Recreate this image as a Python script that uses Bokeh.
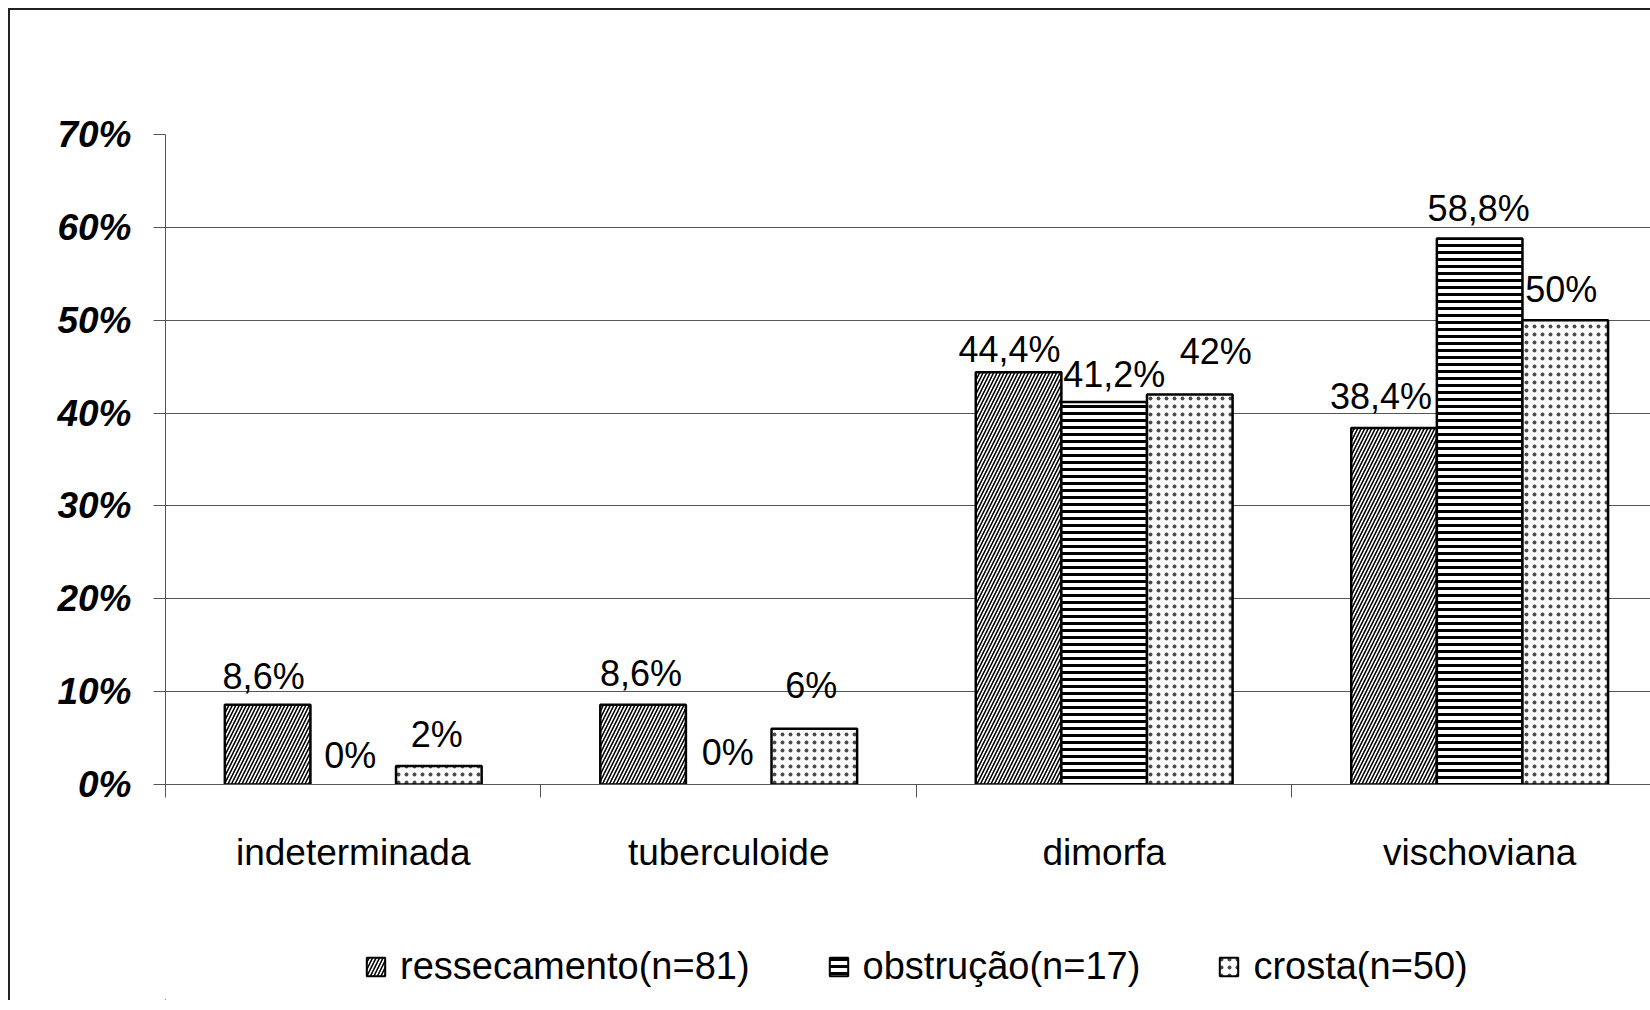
from bokeh.plotting import figure
from bokeh.layouts import column
from bokeh.models import ColumnDataSource, FixedTicker, Legend, LegendItem, Range1d
from bokeh.core.properties import value
from bokeh.embed import file_html
from bokeh.resources import INLINE

# ---------------- data ----------------
categories = ["indeterminada", "tuberculoide", "dimorfa", "vischoviana"]
series_names = ["ressecamento(n=81)", "obstrução(n=17)", "crosta(n=50)"]
ressecamento = [8.6, 8.6, 44.4, 38.4]
obstrucao = [0.0, 0.0, 41.2, 58.8]
crosta = [2.0, 6.0, 42.0, 50.0]
y_ticks = [0, 10, 20, 30, 40, 50, 60, 70]
y_tick_labels = ["0%", "10%", "20%", "30%", "40%", "50%", "60%", "70%"]

# ---------------- styles ----------------
FONT = "Liberation Sans"
series_values = [ressecamento, obstrucao, crosta]
hatch_styles = [
    dict(hatch_pattern="right_diagonal_line", hatch_scale=7, hatch_weight=1.6),
    dict(hatch_pattern="horizontal_line", hatch_scale=7, hatch_weight=3),
    dict(hatch_pattern="dot", hatch_scale=8, hatch_weight=0.5, hatch_alpha=0.7),
]
# manual data label nudges (pixels), as in the original chart
label_dx = [[-4, -2, -9, -13], [-3, -1, 10, -1], [-2, -3, 26, -4]]
label_dy = [[28, 31, 23, 31], [29, 32, 27, 30], [31, 43, 43, 31]]
bar_w = 0.228
dodge = [-bar_w, 0.0, bar_w]

p = figure(frame_width=1485, frame_height=650,
           x_range=Range1d(0, 3.955), y_range=Range1d(0, 70),
           output_backend="svg", toolbar_location=None,
           min_border_left=155, min_border_top=124,
           min_border_right=0, min_border_bottom=156)
p.outline_line_color = None
p.background_fill_color = "white"
p.border_fill_color = "white"

# grid
p.xgrid.visible = False
p.ygrid.ticker = FixedTicker(ticks=y_ticks)
p.ygrid.grid_line_color = "#555555"
p.ygrid.grid_line_width = 1

# y axis
p.yaxis.ticker = FixedTicker(ticks=y_ticks)
p.yaxis.major_label_overrides = {t: l for t, l in zip(y_ticks, y_tick_labels)}
p.yaxis.major_label_text_font = FONT
p.yaxis.major_label_text_font_size = "37px"
p.yaxis.major_label_text_font_style = "bold italic"
p.yaxis.major_label_text_color = "black"
p.yaxis.major_tick_out = 12
p.yaxis.major_tick_in = 0
p.yaxis.minor_tick_line_color = None
p.yaxis.major_label_standoff = 22
p.yaxis.axis_line_color = "#555555"
p.yaxis.major_tick_line_color = "#555555"

# x axis
centers = [i + 0.5 for i in range(len(categories))]
bounds = [float(i) for i in range(len(categories) + 1)]
p.xaxis.ticker = FixedTicker(ticks=centers, minor_ticks=bounds)
p.xaxis.major_label_overrides = {c: n for c, n in zip(centers, categories)}
p.xaxis.major_label_text_font = FONT
p.xaxis.major_label_text_font_size = "37px"
p.xaxis.major_label_text_color = "black"
p.xaxis.major_tick_line_color = None
p.xaxis.major_tick_out = 0
p.xaxis.major_tick_in = 0
p.xaxis.minor_tick_out = 13
p.xaxis.minor_tick_in = 0
p.xaxis.minor_tick_line_color = "#555555"
p.xaxis.axis_line_color = "#555555"
p.xaxis.major_label_standoff = 34

for k, (name, vals) in enumerate(zip(series_names, series_values)):
    xs = [c + dodge[k] for c in centers]
    src = ColumnDataSource(dict(
        x=xs, top=vals,
        line_alpha=[0.0 if v == 0 else 1.0 for v in vals],
        label=[(f"{v:g}".replace(".", ",") + "%") for v in vals],
        dx=label_dx[k], dy=[-d for d in label_dy[k]],
    ))
    p.vbar(x="x", top="top", bottom=0, width=bar_w, source=src,
           fill_color="white", line_color="black", line_width=2.5,
           line_alpha="line_alpha", hatch_color="black", **hatch_styles[k])
    p.text(x="x", y="top", text="label", source=src,
           x_offset="dx", y_offset="dy",
           text_align="center", text_baseline="alphabetic",
           text_font=value(FONT), text_font_size="36px", text_color="black")

# ---------------- legend strip (separate figure under the chart) ----------------
lg = figure(width=1640, height=60, output_backend="svg", toolbar_location=None,
            x_axis_type=None, y_axis_type=None,
            x_range=Range1d(0, 1), y_range=Range1d(0, 1), min_border=0)
lg.outline_line_color = None
lg.grid.visible = False
lg.background_fill_color = "white"
lg.border_fill_color = "white"
items = []
for k, name in enumerate(series_names):
    # proxy renderer placed entirely outside the visible ranges; only the legend swatch is seen
    r = lg.vbar(x=[-1000.0], top=[-900.0], bottom=-1000.0, width=bar_w,
                fill_color="white", line_color="black", line_width=2,
                hatch_color="black", **hatch_styles[k])
    items.append(LegendItem(label=name, renderers=[r]))

legend = Legend(items=items, orientation="horizontal", location=(199, 12))
legend.label_text_font = FONT
legend.label_text_font_size = "38px"
legend.label_text_color = "black"
legend.glyph_width = 23
legend.glyph_height = 23
legend.label_standoff = 13
legend.spacing = 77
legend.padding = 0
legend.margin = 0
legend.border_line_color = None
legend.background_fill_alpha = 0
lg.add_layout(legend, "center")

layout = column(p, lg, spacing=0)
layout.styles = {"border-left": "2px solid #222222", "border-top": "2px solid #222222",
                 "margin-left": "8px", "margin-top": "8px", "background": "white"}

open("out.html", "w").write(file_html(layout, INLINE))
